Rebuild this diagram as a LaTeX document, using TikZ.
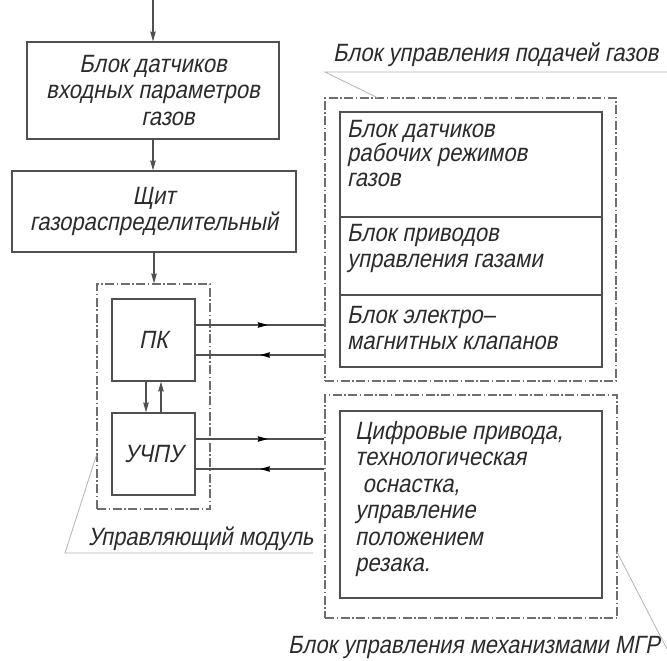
\documentclass[tikz,border=0pt]{standalone}
\usepackage{fontspec}
\setmainfont{Liberation Sans}[FakeSlant=0.2,FakeStretch=0.88]
\usetikzlibrary{arrows.meta,decorations.markings}
\definecolor{txt}{HTML}{2B2B2B}
\definecolor{linec}{HTML}{505050}
\definecolor{framec}{HTML}{6E6E6E}
\definecolor{leadc}{HTML}{B4B4B4}
\tikzset{
  tipa/.tip={Stealth[length=10pt,width=5.5pt,inset=1pt]},
  box/.style={draw=linec, line width=1.2bp, inner sep=0pt, align=center},
  frame/.style={draw=framec, line width=1.1bp, dash pattern=on 9bp off 2.5bp on 1.5bp off 2.5bp, inner sep=0pt},
  flow/.style={draw=linec, line width=1.1bp, -tipa},
  sig/.style={draw=linec, line width=1.1bp, postaction=decorate,
    decoration={markings, mark=at position #1 with {\arrow[black]{tipa}}}},
  leader/.style={draw=leadc, line width=0.8bp},
  lbl/.style={anchor=base west, inner sep=0pt},
  blocktext/.style={anchor=north west, inner sep=0pt, align=left}
}
\begin{document}
\begin{tikzpicture}[x=1bp,y=-1bp, font=\fontsize{25bp}{26.5bp}\selectfont, text=txt]
\useasboundingbox (0,0) rectangle (667,661);
\fill[white] (0,0) rectangle (667,661);

% left column
\coordinate (in) at (153,0);
\node[box, minimum width=252bp, minimum height=97bp] (b1) at (153,90.5)
  {Блок датчиков\\входных параметров\\\hspace*{1.2em}газов};
\node[box, minimum width=284bp, minimum height=81bp] (b2) at (154,211.5)
  {Щит\\газораспределительный};

% control module
\node[frame, minimum width=113bp, minimum height=225bp] (modf) at (153.5,396.5) {};
\node[box, minimum width=83bp, minimum height=82bp] (pk) at (153.5,340) {ПК};
\node[box, minimum width=83bp, minimum height=82bp] (uc) at (153.5,454) {УЧПУ};

% gas control block
\node[frame, minimum width=291bp, minimum height=283bp] (gasf) at (470.5,239.5) {};
\node[box, minimum width=262bp, minimum height=105bp] (s1) at (471,164.5) {};
\node[box, minimum width=262bp, minimum height=78bp] (s2) at (471,256) {};
\node[box, minimum width=262bp, minimum height=72bp] (s3) at (471,331) {};
\node[blocktext, font=\fontsize{25bp}{24.5bp}\selectfont] (t1) at (347,120)
  {Блок датчиков\\рабочих режимов\\газов};
\node[blocktext] (t2) at (347,224) {Блок приводов\\управления газами};
\node[blocktext] (t3) at (347,306) {Блок электро–\\магнитных клапанов};

% MGR block
\node[frame, minimum width=292bp, minimum height=223bp] (mgrf) at (471,506.5) {};
\node[box, minimum width=262bp, minimum height=187bp] (mg) at (471,504.5) {};
\node[blocktext] (t4) at (355,421)
  {Цифровые привода,\\технологическая\\\hspace*{0.3em}оснастка,\\управление\\положением\\резака.};

% labels
\node[lbl] (l1) at (333,62) {Блок управления подачей газов};
\node[lbl] (l2) at (88,545) {Управляющий модуль};
\node[lbl] (l3) at (288,653) {Блок управления механизмами МГР};

% flow arrows
\draw[flow] (in) -- (b1.north);
\draw[flow] (b1.south) -- (b1.south |- b2.north);
\draw[flow] (b2.south) -- (b2.south |- modf.north);

\coordinate (d1) at ([xshift=-7.5bp]pk.south);
\coordinate (u1) at ([xshift=7.5bp]uc.north);
\draw[flow] (d1) -- (d1 |- uc.north);
\draw[flow] (u1) -- (u1 |- pk.south);

% signal lines
\coordinate (p1) at ([yshift=15bp]pk.east);
\coordinate (p2) at ([yshift=-15bp]pk.east);
\coordinate (q1) at ([yshift=15bp]uc.east);
\coordinate (q2) at ([yshift=-15bp]uc.east);
\draw[sig=0.56] (p1) -- (p1 -| gasf.west);
\draw[sig=0.5] (p2 -| gasf.west) -- (p2);
\draw[sig=0.56] (q1) -- (q1 -| mgrf.west);
\draw[sig=0.5] (q2 -| mgrf.west) -- (q2);

% leaders
\coordinate (a1) at (325,72);
\coordinate (a2) at (667,72);
\coordinate (a3) at (378,98);
\draw[leader] (a2) -- (a1) -- (a3);
\coordinate (c1) at (313,553);
\coordinate (c2) at (65,553);
\coordinate (c3) at (96.5,455);
\draw[leader] (c1) -- (c2) -- (c3);
\coordinate (e1) at (617,552);
\coordinate (e2) at (667,649);
\draw[leader] (e1) -- (e2);
\end{tikzpicture}
\end{document}
